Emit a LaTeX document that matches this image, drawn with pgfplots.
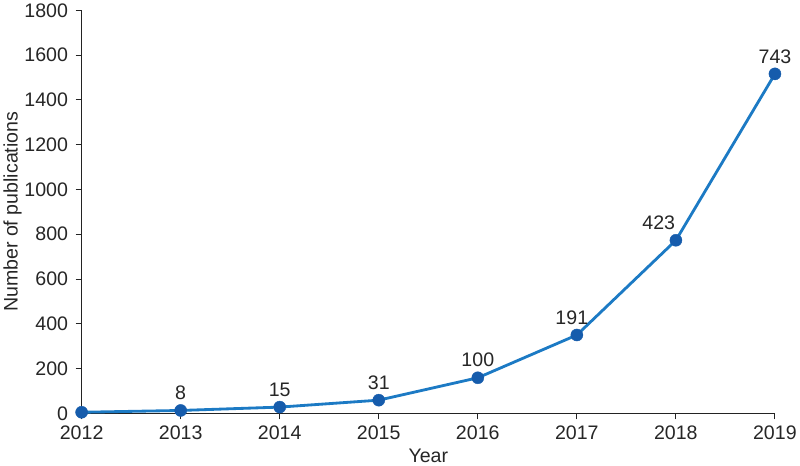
\documentclass[border=0pt]{standalone}
\usepackage{pgfplots}
\pgfplotsset{compat=1.18}
\usepackage{pgfplotstable}
\usepackage{fontspec}
\setmainfont{Liberation Sans}
\definecolor{linec}{RGB}{28,122,196}
\definecolor{markc}{RGB}{22,92,172}
\definecolor{axc}{RGB}{35,35,35}
\pgfplotstableread{
year value label dx
2012 5 {} 0
2013 13 8 0
2014 28 15 0
2015 59 31 0
2016 159 100 0
2017 350 191 -5
2018 773 423 -17
2019 1516 743 0
}\datatable
\begin{document}
\begin{tikzpicture}
\begin{axis}[
  scale only axis,
  width=688bp, height=400bp,
  xmin=2012, xmax=2019,
  ymin=0, ymax=1800,
  axis lines=left,
  axis line style={-, draw=axc, line width=0.9bp},
  xtick={2012,...,2019},
  ytick={0,200,...,1800},
  tick align=outside,
  major tick length=6bp,
  tick style={draw=axc, line width=0.9bp},
  /pgf/number format/1000 sep={},
  /pgf/number format/assume math mode=true,
  tick label style={font=\fontsize{19.5}{22}\selectfont, text=black!85},
  xticklabel style={yshift=-3bp},
  yticklabel style={xshift=-4bp},
  xlabel={Year},
  ylabel={Number of publications},
  label style={font=\fontsize{19.5}{22}\selectfont, text=black!85},
  xlabel style={yshift=-2bp},
  ylabel style={yshift=-4bp},
  clip=false,
]
\addplot[color=linec, line width=2.8bp, mark=*, mark size=6bp,
  mark options={solid, fill=markc, draw=markc, line width=0.4bp},
  visualization depends on={\thisrow{dx} \as \dx},
  nodes near coords, point meta=explicit symbolic,
  every node near coord/.append style={font=\fontsize{19.5}{22}\selectfont, text=black!85, anchor=south, yshift=7bp, xshift=\dx*1bp}
] table[x=year, y=value, meta=label] {\datatable};
\end{axis}
\end{tikzpicture}
\end{document}
